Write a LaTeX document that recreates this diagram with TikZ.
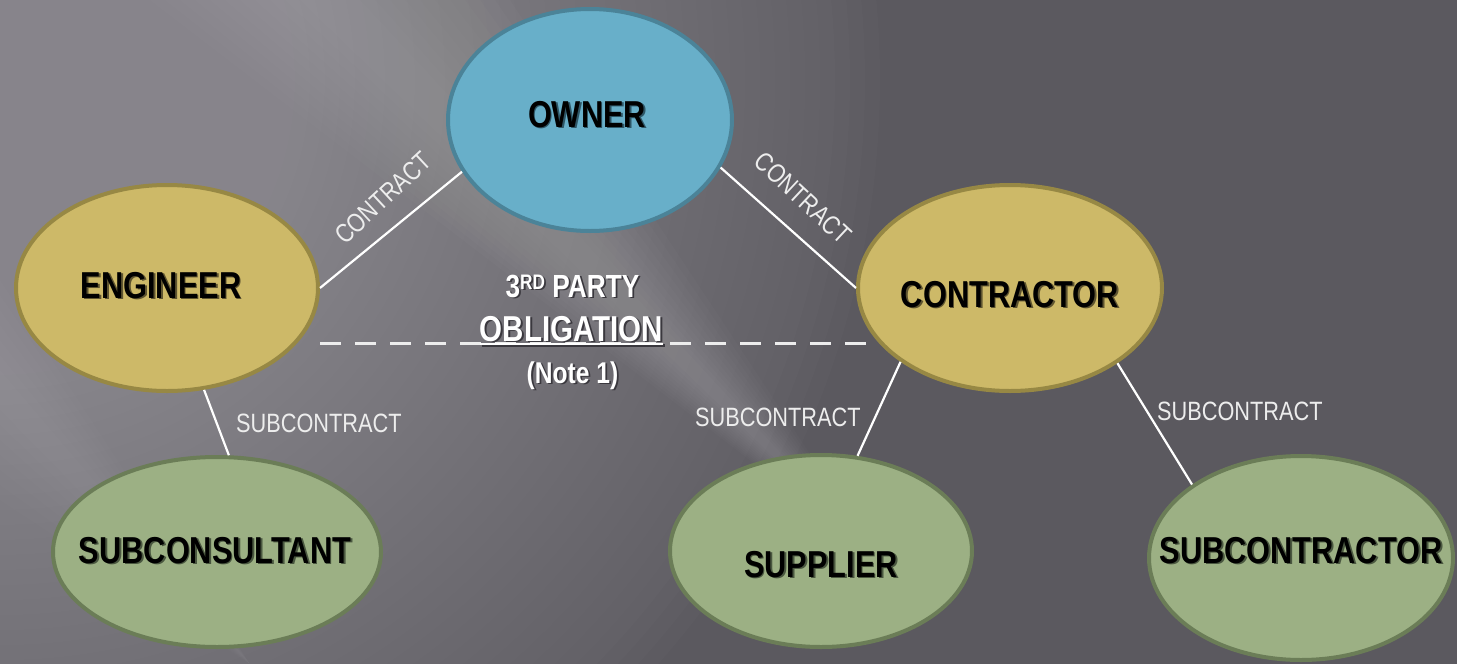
\documentclass[tikz,border=0pt]{standalone}
\usepackage{fontspec}
\setmainfont{Liberation Sans}[FakeStretch=0.82]
\usetikzlibrary{shapes.geometric}

\definecolor{bgdark}{HTML}{5B595F}
\definecolor{bglight}{HTML}{ABA8AF}
\definecolor{ownerfill}{HTML}{68AFC9}
\definecolor{ownerline}{HTML}{4B8398}
\definecolor{goldfill}{HTML}{CDB968}
\definecolor{goldline}{HTML}{978844}
\definecolor{greenfill}{HTML}{9CB084}
\definecolor{greenline}{HTML}{6B7D57}
\definecolor{labelwhite}{HTML}{EDEDED}
\definecolor{shadowblue}{HTML}{2E5666}
\definecolor{shadowgold}{HTML}{5E5430}
\definecolor{shadowgreen}{HTML}{4A5740}
\definecolor{shadowgray}{HTML}{3A383E}

% text with a small dark drop shadow behind it
\newcommand\shadowed[2]{\makebox[0pt][l]{\kern1.8pt\raisebox{-1.8pt}{\textcolor{#1}{#2}}}#2}
% thick underline below a word
\newcommand\thickunder[1]{\leavevmode\vtop{\hbox{#1}\kern1.2pt\hrule height 2.2pt}}

\tikzset{
  party/.style={ellipse, draw, line width=4pt, inner sep=0pt},
  ownerparty/.style={party, fill=ownerfill, draw=ownerline},
  mainparty/.style={party, fill=goldfill, draw=goldline},
  subparty/.style={party, fill=greenfill, draw=greenline},
  partyname/.style={anchor=base, text=black,
    font=\bfseries\fontsize{37.5}{40}\selectfont},
  midtext/.style={anchor=base, text=white, font=\bfseries},
  linklabel/.style={text=labelwhite, inner sep=0pt,
    font=\fontsize{26.5}{28}\selectfont},
  link/.style={draw=white, line width=2.2pt},
  obligationline/.style={draw=labelwhite, line width=3pt,
    dash pattern=on 21pt off 14pt}
}

\begin{document}
\begin{tikzpicture}[x=1pt,y=-1pt]
\useasboundingbox (0,0) rectangle (1457,664);

% background: dark slate, a soft glow built from stacked translucent discs
% in the upper left, and faint diagonal light streaks
\begin{scope}
  \clip (0,0) rectangle (1457,664);
  \fill[bgdark] (0,0) rectangle (1457,664);
  \foreach \r in {880,865,...,30}{
    \fill[bglight, opacity=0.028] (0,80) circle (\r);
  }
  \foreach \w in {30,45,...,180}{
    \fill[white, opacity=0.014] (330-\w,0) -- (330+\w,0) -- (880,560) -- cycle;
  }
  \foreach \w in {20,35,...,110}{
    \fill[white, opacity=0.013] (0,390-\w) -- (0,390+\w) -- (250,664) -- cycle;
  }
\end{scope}

% parties
\node[ownerparty, minimum width=284pt, minimum height=222pt] (owner) at (590,120) {};
\node[mainparty, minimum width=302pt, minimum height=206pt] (engineer) at (167,288) {};
\node[mainparty, minimum width=304pt, minimum height=206pt] (contractor) at (1010,288) {};
\node[subparty, minimum width=328pt, minimum height=190pt] (subconsultant) at (217,552) {};
\node[subparty, minimum width=302pt, minimum height=192pt] (supplier) at (821,551) {};
\node[subparty, minimum width=304pt, minimum height=204pt] (subcontractor) at (1301,558) {};

\node[partyname] (owner-name) at (587,127) {\shadowed{shadowblue}{OWNER}};
\node[partyname] (engineer-name) at (161,298) {\shadowed{shadowgold}{ENGINEER}};
\node[partyname] (contractor-name) at (1010,307) {\shadowed{shadowgold}{CONTRACTOR}};
\node[partyname] (subconsultant-name) at (215,563) {\shadowed{shadowgreen}{SUBCONSULTANT}};
\node[partyname] (supplier-name) at (821,577) {\shadowed{shadowgreen}{SUPPLIER}};
\node[partyname] (subcontractor-name) at (1301,563) {\shadowed{shadowgreen}{SUBCONTRACTOR}};

% contract links
\draw[link] (engineer.east) -- (owner.202);
\draw[link] (owner.340) -- (contractor.west);
\draw[link] (engineer.290) -- (subconsultant.83);
\draw[link] (contractor.214) -- (supplier.69);
\draw[link] (contractor.325) -- (subcontractor.146);

% third party obligation
\draw[obligationline] ([yshift=-55pt]engineer.east) -- ([xshift=17pt,yshift=-55pt]contractor.west);

\node[linklabel, rotate=43] (contract-engineer) at (383,198) {CONTRACT};
\node[linklabel, rotate=-43] (contract-contractor) at (803,198) {CONTRACT};
\node[linklabel, anchor=base west] (sub-engineer) at (236,432) {SUBCONTRACT};
\node[linklabel, anchor=base west] (sub-supplier) at (695,426) {SUBCONTRACT};
\node[linklabel, anchor=base west] (sub-subcontractor) at (1157,420) {SUBCONTRACT};

\node[midtext, font=\bfseries\fontsize{32}{34}\selectfont] (party-line) at (572.5,297)
  {\shadowed{shadowgray}{3\raisebox{8pt}{\fontsize{21}{21}\selectfont RD} PARTY}};
\node[midtext, font=\bfseries\fontsize{36}{38}\selectfont] (obligation) at (571.5,341)
  {\shadowed{shadowgray}{\thickunder{OBLIGATION}}};
\node[midtext, font=\bfseries\fontsize{30}{32}\selectfont] (note) at (572.5,383)
  {\shadowed{shadowgray}{(Note 1)}};

\end{tikzpicture}
\end{document}
